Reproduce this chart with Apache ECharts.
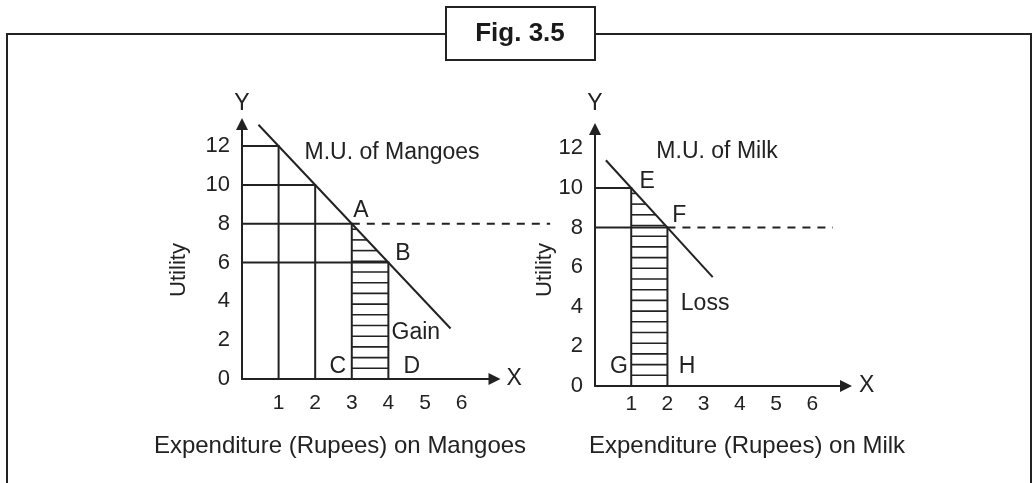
<!DOCTYPE html>
<html>
<head>
<meta charset="utf-8">
<style>
  html, body { margin: 0; padding: 0; background: #fff; }
  #chart { width: 1032px; height: 483px; }
</style>
</head>
<body>
<div id="chart"></div>
<script src="https://cdn.jsdelivr.net/npm/echarts@6/dist/echarts.min.js"></script>
<script>
// tick labels
var xTicks = [1, 2, 3, 4, 5, 6];
var yTicks = [0, 2, 4, 6, 8, 10, 12];

// mangoes: rupee spent -> marginal utility
var mangoSpend = [1, 2, 3, 4];
var mangoMU = [12, 10, 8, 6];
var mangoLine = [[0.45, 13.1], [5.7, 2.6]];
var mangoGain = [[3, 4, 8, 6]];          // x0, x1, MU at x0, MU at x1
var mangoEqual = [[3, 8, 8.42]];         // from x0 at level y out to x1

// milk
var milkSpend = [1, 2];
var milkMU = [10, 8];
var milkLine = [[0.3, 11.4], [3.25, 5.5]];
var milkLoss = [[1, 2, 10, 8]];
var milkEqual = [[2, 8, 6.57]];

// text on the plots (x, y, text)
var mangoNotes = [
  [4.1, 11.65, 'M.U. of Mangoes'],
  [3.25, 8.66, 'A'],
  [4.4, 6.46, 'B'],
  [2.62, 0.62, 'C'],
  [4.64, 0.62, 'D'],
  [4.75, 2.37, 'Gain']
];
var milkNotes = [
  [3.37, 11.82, 'M.U. of Milk'],
  [1.44, 10.3, 'E'],
  [2.33, 8.6, 'F'],
  [3.04, 4.14, 'Loss'],
  [0.66, 0.96, 'G'],
  [2.54, 0.96, 'H']
];

var INK = '#222';
var FONT = '"Liberation Sans", Arial, sans-serif';

var myChart = echarts.init(document.getElementById('chart'));

function xAxisFor(idx, max, gap, margin) {
  return {
    type: 'value', gridIndex: idx, min: 0, max: max, interval: 1,
    name: 'X', nameLocation: 'end', nameGap: gap,
    nameTextStyle: { color: INK, fontSize: 23, fontFamily: FONT },
    axisLine: { lineStyle: { color: INK, width: 2 }, symbol: ['none', 'triangle'], symbolSize: [12, 12] },
    axisTick: { show: false },
    splitLine: { show: false },
    axisLabel: {
      color: INK, fontSize: 21, fontFamily: FONT, margin: margin,
      formatter: function (v) { return xTicks.indexOf(v) >= 0 ? String(v) : ''; }
    }
  };
}
function yAxisFor(idx, max, gap) {
  return {
    type: 'value', gridIndex: idx, min: 0, max: max, interval: 2,
    name: 'Y', nameLocation: 'end', nameGap: gap,
    nameTextStyle: { color: INK, fontSize: 23, fontFamily: FONT },
    axisLine: { lineStyle: { color: INK, width: 2 }, symbol: ['none', 'triangle'], symbolSize: [12, 12] },
    axisTick: { show: false },
    splitLine: { show: false },
    axisLabel: {
      color: INK, fontSize: 22, fontFamily: FONT, margin: 12,
      formatter: function (v) { return yTicks.indexOf(v) >= 0 ? String(v) : ''; }
    }
  };
}

// horizontal from the Y axis to the MU point, then down to the X axis
function stepItem(params, api) {
  var x = api.value(0), mu = api.value(1);
  return {
    type: 'polyline',
    shape: { points: [api.coord([0, mu]), api.coord([x, mu]), api.coord([x, 0])] },
    style: { stroke: INK, lineWidth: 2, fill: null }
  };
}

// horizontal hatching under the MU line between x0 and x1
function hatchItem(params, api) {
  var x0 = api.value(0), x1 = api.value(1), t0 = api.value(2), t1 = api.value(3);
  var b0 = api.coord([x0, 0]), b1 = api.coord([x1, 0]);
  var a = api.coord([x0, t0]), c = api.coord([x1, t1]);
  var gap = 10.7, kids = [];
  for (var y = b0[1] - gap; y > a[1] + 2; y -= gap) {
    var xr = y >= c[1] ? b1[0] : a[0] + (c[0] - a[0]) * (y - a[1]) / (c[1] - a[1]);
    kids.push({ type: 'line', shape: { x1: b0[0], y1: y, x2: xr, y2: y },
      style: { stroke: INK, lineWidth: 1.6 } });
  }
  return { type: 'group', children: kids };
}

// dashed level line, may run past the end of the axis
function dashItem(params, api) {
  var x0 = api.value(0), lv = api.value(1), x1 = api.value(2);
  var a = api.coord([x0, lv]);
  var unit = api.size([1, 0])[0];
  return {
    type: 'line',
    shape: { x1: a[0], y1: a[1], x2: a[0] + (x1 - x0) * unit, y2: a[1] },
    style: { stroke: INK, lineWidth: 2, lineDash: [8, 7] }
  };
}

function notes(idx, list) {
  return {
    type: 'scatter', xAxisIndex: idx, yAxisIndex: idx, data: list,
    symbolSize: 0, itemStyle: { color: INK, opacity: 1 }, clip: false, silent: true,
    label: {
      show: true, position: 'inside', color: INK, fontSize: 23, fontFamily: FONT,
      textBorderWidth: 0,
      formatter: function (p) { return p.value[2]; }
    },
    z: 5
  };
}

function zip(xs, ys) { return xs.map(function (x, i) { return [x, ys[i]]; }); }

var option = {
  backgroundColor: '#fff',
  animation: false,
  grid: [
    { left: 242, top: 124, width: 252.5, height: 255 },
    { left: 595, top: 129, width: 251, height: 257 }
  ],
  xAxis: [xAxisFor(0, 6.9, 12, 14), xAxisFor(1, 6.93, 13, 8)],
  yAxis: [yAxisFor(0, 13.14, 9), yAxisFor(1, 12.98, 14)],
  graphic: [
    { type: 'rect', shape: { x: 7, y: 34, width: 1024, height: 480 },
      style: { fill: null, stroke: INK, lineWidth: 2 }, z: 1 },
    { type: 'rect', shape: { x: 446, y: 7, width: 149, height: 53 },
      style: { fill: '#fff', stroke: INK, lineWidth: 2 }, z: 2 },
    { type: 'text', x: 520, y: 34, z: 3,
      style: { text: 'Fig. 3.5', fill: '#1a1a1a', font: 'bold 26px ' + FONT, align: 'center', verticalAlign: 'middle' } },
    { type: 'text', x: 179, y: 270, rotation: Math.PI / 2, z: 3,
      style: { text: 'Utility', fill: INK, font: '22px ' + FONT, align: 'center', verticalAlign: 'middle' } },
    { type: 'text', x: 545, y: 270, rotation: Math.PI / 2, z: 3,
      style: { text: 'Utility', fill: INK, font: '22px ' + FONT, align: 'center', verticalAlign: 'middle' } },
    { type: 'text', x: 340, y: 446, z: 3,
      style: { text: 'Expenditure (Rupees) on Mangoes', fill: INK, font: '24px ' + FONT, align: 'center', verticalAlign: 'middle' } },
    { type: 'text', x: 747, y: 446, z: 3,
      style: { text: 'Expenditure (Rupees) on Milk', fill: INK, font: '24px ' + FONT, align: 'center', verticalAlign: 'middle' } }
  ],
  series: [
    { type: 'custom', xAxisIndex: 0, yAxisIndex: 0, renderItem: stepItem, data: zip(mangoSpend, mangoMU), clip: false, silent: true },
    { type: 'custom', xAxisIndex: 0, yAxisIndex: 0, renderItem: hatchItem, data: mangoGain, clip: false, silent: true },
    { type: 'line', xAxisIndex: 0, yAxisIndex: 0, data: mangoLine, symbol: 'none', clip: false, silent: true,
      lineStyle: { color: INK, width: 2 } },
    { type: 'custom', xAxisIndex: 0, yAxisIndex: 0, renderItem: dashItem, data: mangoEqual, clip: false, silent: true },
    notes(0, mangoNotes),

    { type: 'custom', xAxisIndex: 1, yAxisIndex: 1, renderItem: stepItem, data: zip(milkSpend, milkMU), clip: false, silent: true },
    { type: 'custom', xAxisIndex: 1, yAxisIndex: 1, renderItem: hatchItem, data: milkLoss, clip: false, silent: true },
    { type: 'line', xAxisIndex: 1, yAxisIndex: 1, data: milkLine, symbol: 'none', clip: false, silent: true,
      lineStyle: { color: INK, width: 2 } },
    { type: 'custom', xAxisIndex: 1, yAxisIndex: 1, renderItem: dashItem, data: milkEqual, clip: false, silent: true },
    notes(1, milkNotes)
  ]
};

myChart.setOption(option);
</script>
</body>
</html>
